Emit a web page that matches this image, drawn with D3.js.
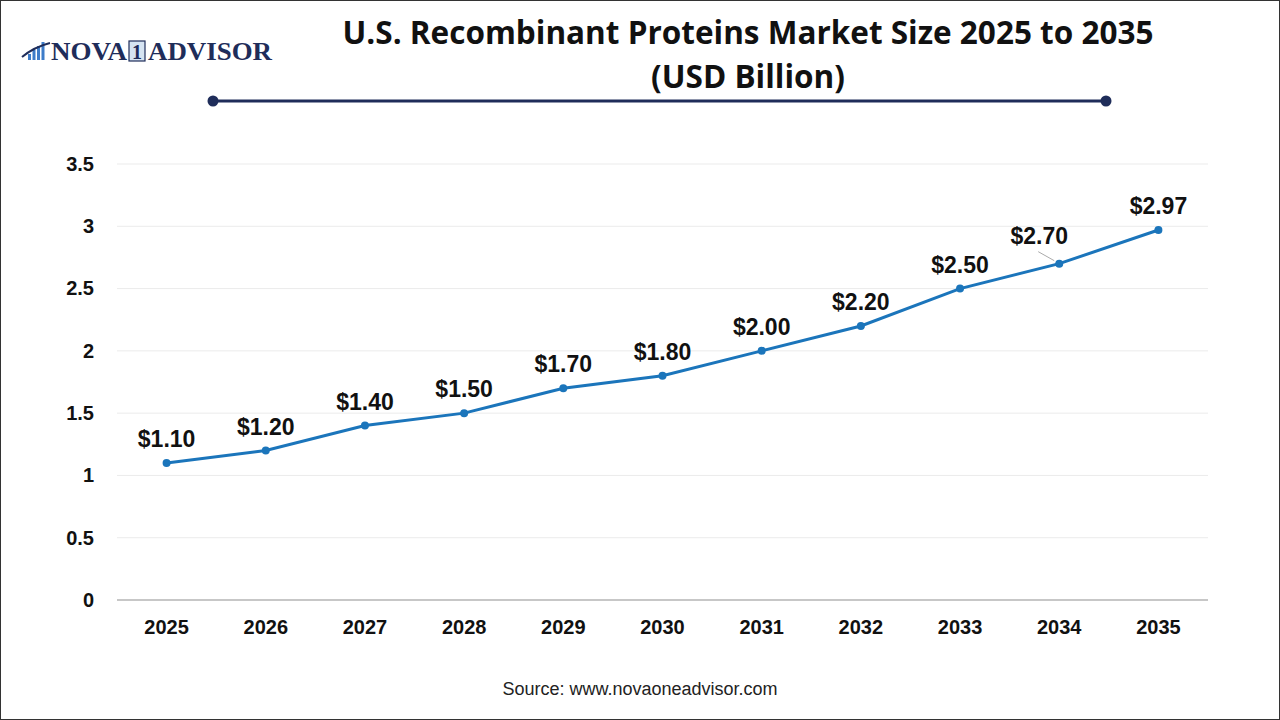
<!DOCTYPE html>
<html>
<head>
<meta charset="utf-8">
<script src="https://cdn.jsdelivr.net/npm/d3@7"></script>
<style>
  body { margin: 0; background: #fff; }
  svg { display: block; font-family: "Liberation Sans", Arial, sans-serif; }
</style>
</head>
<body>
<div id="viz"></div>
<script>
// chart data
var years = ["2025", "2026", "2027", "2028", "2029", "2030", "2031", "2032", "2033", "2034", "2035"]
var values = [1.10, 1.20, 1.40, 1.50, 1.70, 1.80, 2.00, 2.20, 2.50, 2.70, 2.97]
var yTicks = [0, 0.5, 1, 1.5, 2, 2.5, 3, 3.5]

var w = 1280
var h = 720
var margin = { top: 164, right: 72, bottom: 120, left: 117 }

var svg = d3.select("#viz").append("svg")
  .attr("width", w)
  .attr("height", h)

// frame
svg.append("rect")
  .attr("x", 0.5).attr("y", 0.5)
  .attr("width", w - 1).attr("height", h - 1)
  .attr("fill", "#fff").attr("stroke", "#333").attr("stroke-width", 1)

// logo
var serif = "'Liberation Serif', 'DejaVu Serif', serif"
var logo = svg.append("g").attr("transform", "translate(20,60)")
var barH = [6, 10, 14, 18]
barH.forEach((bh, i) => {
  logo.append("rect")
    .attr("x", 8 + i * 4.5).attr("y", -bh)
    .attr("width", 3).attr("height", bh)
    .attr("fill", "#3d7cc9")
})
logo.append("path")
  .attr("d", "M2,-3 Q14,-13 30,-17")
  .attr("fill", "none").attr("stroke", "#1f2d5a").attr("stroke-width", 2)
logo.append("text")
  .attr("x", 31).attr("y", 0)
  .attr("font-family", serif)
  .attr("font-weight", "bold").attr("font-size", 25)
  .attr("textLength", 76).attr("lengthAdjust", "spacingAndGlyphs")
  .attr("fill", "#1f2d5a")
  .text("NOVA")
logo.append("rect")
  .attr("x", 109).attr("y", -19).attr("width", 16).attr("height", 20)
  .attr("fill", "#d6e4f2").attr("stroke", "#1f2d5a").attr("stroke-width", 1.2)
logo.append("text")
  .attr("x", 117).attr("y", -1).attr("text-anchor", "middle")
  .attr("font-family", serif)
  .attr("font-weight", "bold").attr("font-size", 20)
  .attr("fill", "#1f2d5a")
  .text("1")
logo.append("text")
  .attr("x", 128).attr("y", 0)
  .attr("font-family", serif)
  .attr("font-weight", "bold").attr("font-size", 25)
  .attr("textLength", 124).attr("lengthAdjust", "spacingAndGlyphs")
  .attr("fill", "#1f2d5a")
  .text("ADVISOR")

// title
var title = svg.append("text")
  .attr("text-anchor", "middle")
  .attr("font-family", "'Open Sans', 'Noto Sans', sans-serif")
  .attr("font-weight", "bold").attr("font-size", 31.5).attr("fill", "#111")
title.append("tspan").attr("x", 748).attr("y", 44).text("U.S. Recombinant Proteins Market Size 2025 to 2035")
title.append("tspan").attr("x", 748).attr("y", 88).text("(USD Billion)")

// decorative rule under title
svg.append("line")
  .attr("x1", 213).attr("x2", 1106).attr("y1", 101).attr("y2", 101)
  .attr("stroke", "#1f2d5a").attr("stroke-width", 3)
svg.selectAll(".rule-dot").data([213, 1106])
  .enter().append("circle")
  .attr("class", "rule-dot")
  .attr("cx", d => d).attr("cy", 101).attr("r", 5.5)
  .attr("fill", "#1f2d5a")

// scales
var x = d3.scaleBand()
  .domain(years)
  .range([margin.left, w - margin.right])

var y = d3.scaleLinear()
  .domain([0, 3.5])
  .range([h - margin.bottom, margin.top])

// gridlines
svg.selectAll(".grid").data(yTicks.filter(d => d > 0))
  .enter().append("line")
  .attr("class", "grid")
  .attr("x1", margin.left).attr("x2", w - margin.right)
  .attr("y1", d => y(d)).attr("y2", d => y(d))
  .attr("stroke", "#ebebeb").attr("stroke-width", 1)

// baseline
svg.append("line")
  .attr("x1", margin.left).attr("x2", w - margin.right)
  .attr("y1", y(0)).attr("y2", y(0))
  .attr("stroke", "#b5b5b5").attr("stroke-width", 1.5)

// y axis
var yAxis = svg.append("g")
  .attr("transform", `translate(${margin.left - 20},0)`)
  .call(d3.axisLeft(y).tickValues(yTicks).tickSize(0).tickFormat(d3.format("~g")))
yAxis.select(".domain").remove()
yAxis.selectAll("text")
  .attr("font-family", "'Liberation Sans', Arial, sans-serif")
  .attr("font-weight", "bold").attr("font-size", 20).attr("fill", "#111")

// x axis
var xAxis = svg.append("g")
  .attr("transform", `translate(0,${y(0) + 17})`)
  .call(d3.axisBottom(x).tickSize(0))
xAxis.select(".domain").remove()
xAxis.selectAll("text")
  .attr("font-family", "'Liberation Sans', Arial, sans-serif")
  .attr("font-weight", "bold").attr("font-size", 20).attr("fill", "#111")

// line
var cx = d => x(d) + x.bandwidth() / 2
var line = d3.line()
  .x((d, i) => cx(years[i]))
  .y(d => y(d))

svg.append("path")
  .datum(values)
  .attr("d", line)
  .attr("fill", "none")
  .attr("stroke", "#1b75bb")
  .attr("stroke-width", 3)

svg.selectAll(".pt").data(values)
  .enter().append("circle")
  .attr("class", "pt")
  .attr("cx", (d, i) => cx(years[i]))
  .attr("cy", d => y(d))
  .attr("r", 4)
  .attr("fill", "#1b75bb")

// value labels ($2.70 sits up and left with a leader line)
var labelShift = years.map(yr => yr === "2034" ? [-20, -20] : [0, -16])

svg.selectAll(".leader").data(values.filter((d, i) => years[i] === "2034"))
  .enter().append("line")
  .attr("class", "leader")
  .attr("x1", cx("2034") - 21).attr("y1", d => y(d) - 12)
  .attr("x2", cx("2034") - 5).attr("y2", d => y(d) - 3)
  .attr("stroke", "#aaa").attr("stroke-width", 1)

svg.selectAll(".lbl").data(values)
  .enter().append("text")
  .attr("class", "lbl")
  .attr("x", (d, i) => cx(years[i]) + labelShift[i][0])
  .attr("y", (d, i) => y(d) + labelShift[i][1])
  .attr("text-anchor", "middle")
  .attr("font-weight", "bold").attr("font-size", 23).attr("fill", "#111")
  .text(d => "$" + d.toFixed(2))

// source
svg.append("text")
  .attr("x", 640).attr("y", 695).attr("text-anchor", "middle")
  .attr("font-size", 18).attr("fill", "#222")
  .text("Source: www.novaoneadvisor.com")
</script>
</body>
</html>
